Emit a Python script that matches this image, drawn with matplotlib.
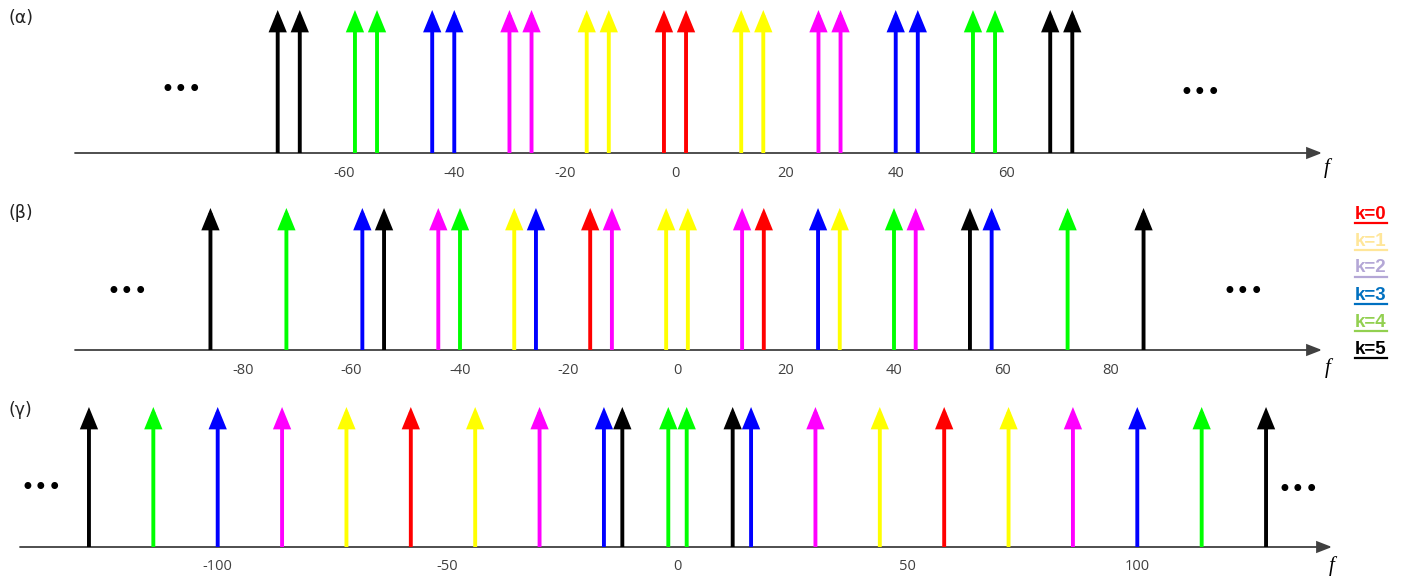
import matplotlib
matplotlib.use("Agg")
import matplotlib.pyplot as plt
from matplotlib.lines import Line2D

# frequencies (same units as tick labels) and the k index of every spectral line
alpha_freqs = [-72, -68, -58, -54, -44, -40, -30, -26, -16, -12, -2, 2,
               12, 16, 26, 30, 40, 44, 54, 58, 68, 72]
alpha_k = [5, 5, 4, 4, 3, 3, 2, 2, 1, 1, 0, 0, 1, 1, 2, 2, 3, 3, 4, 4, 5, 5]

beta_freqs = [-86, -72, -58, -54, -44, -40, -30, -26, -16, -12, -2, 2,
              12, 16, 26, 30, 40, 44, 54, 58, 72, 86]
beta_k = [5, 4, 3, 5, 2, 4, 1, 3, 0, 2, 1, 1, 2, 0, 3, 1, 4, 2, 5, 3, 4, 5]

gamma_freqs = [-128, -114, -100, -86, -72, -58, -44, -30, -16, -12, -2, 2,
               12, 16, 30, 44, 58, 72, 86, 100, 114, 128]
gamma_k = [5, 4, 3, 2, 1, 0, 1, 2, 3, 5, 4, 4, 5, 3, 2, 1, 0, 1, 2, 3, 4, 5]

alpha_ticks = [-60, -40, -20, 0, 20, 40, 60]
beta_ticks = [-80, -60, -40, -20, 0, 20, 40, 60, 80]
gamma_ticks = [-100, -50, 0, 50, 100]

line_colors = ["#ff0000", "#ffff00", "#ff00ff", "#0000ff", "#00ff00", "#000000"]
legend_labels = ["k=0", "k=1", "k=2", "k=3", "k=4", "k=5"]
legend_colors = ["#ff0000", "#ffe699", "#b4a7d6", "#0070c0", "#92d050", "#000000"]

W, H = 1401, 579
fig = plt.figure(figsize=(W / 100, H / 100), dpi=100)

AX_COLOR = "#404040"


def px(x, y):
    # pixel (from top-left) -> figure fraction
    return x / W, 1 - y / H


def make_panel(freqs, ks, ticks, axis_y, tip_y, zero_px, scale, line_x0, line_x1,
               tag, dots_l, dots_r, f_pos):
    ax = fig.add_axes([0, 1 - axis_y / H, 1, (axis_y - tip_y) / H])
    ax.set_xlim(-zero_px / scale, (W - zero_px) / scale)
    ax.set_ylim(0, 1)
    for s in ax.spines.values():
        s.set_visible(False)
    ax.set_yticks([])
    ax.set_xticks(ticks)
    ax.set_xticklabels([str(t) for t in ticks])
    ax.tick_params(axis="x", length=0, pad=9, labelsize=10.5, labelcolor=AX_COLOR)
    for lab in ax.get_xticklabels():
        lab.set_fontfamily("Open Sans")
    ax.patch.set_alpha(0)

    # frequency axis with arrow head
    ax.annotate("", xy=(line_x1 / W, 0), xytext=(line_x0 / W, 0),
                xycoords=("axes fraction", "data"),
                arrowprops=dict(arrowstyle="-|>,head_length=0.9,head_width=0.35",
                                color=AX_COLOR, lw=1.3, shrinkA=0, shrinkB=0,
                                mutation_scale=10, joinstyle="miter"),
                annotation_clip=False)

    for f, k in zip(freqs, ks):
        ax.annotate("", xy=(f, 1), xytext=(f, 0),
                    arrowprops=dict(arrowstyle="-|>,head_length=1.1,head_width=0.45",
                                    color=line_colors[k], lw=2.8, shrinkA=0, shrinkB=0,
                                    mutation_scale=10, joinstyle="miter",
                                    capstyle="butt"),
                    annotation_clip=False)

    fig.text(*px(8, tag[1]), tag[0], fontsize=12.5, va="center", ha="left",
             family="DejaVu Sans", color="#222222")
    for d in (dots_l, dots_r):
        fig.text(*px(*d), "\u2022\u2022\u2022", fontsize=17, va="center", ha="center",
                 family="DejaVu Sans", color="black")
    fig.text(*px(*f_pos), "f", fontsize=15, style="italic", va="center", ha="center",
             family="Liberation Serif", color="black")
    return ax


make_panel(alpha_freqs, alpha_k, alpha_ticks, 153, 10, 675, 5.518, 75, 1322,
           ("(\u03b1)", 18), (181, 90), (1200, 93), (1327, 168))
make_panel(beta_freqs, beta_k, beta_ticks, 350, 208, 677, 5.425, 75, 1322,
           ("(\u03b2)", 213), (127, 292), (1243, 292), (1328, 368))
make_panel(gamma_freqs, gamma_k, gamma_ticks, 547, 407, 677.5, 4.598, 20, 1332,
           ("(\u03b3)", 410), (41, 488), (1298, 490), (1332, 566))

# legend: bold, underlined, coloured text
fig.canvas.draw()
renderer = fig.canvas.get_renderer()
for i, (lab, c) in enumerate(zip(legend_labels, legend_colors)):
    t = fig.text(*px(1371, 214 + i * 27), lab, fontsize=13.5, fontweight="bold",
                 color=c, ha="center", va="center", family="Liberation Sans")
    bb = t.get_window_extent(renderer=renderer)
    yline = bb.y0 - 0.5
    fig.add_artist(Line2D([bb.x0 / W, bb.x1 / W], [yline / H, yline / H],
                          transform=fig.transFigure, color=c, lw=1.6))

fig.savefig("out.png", dpi=100)
